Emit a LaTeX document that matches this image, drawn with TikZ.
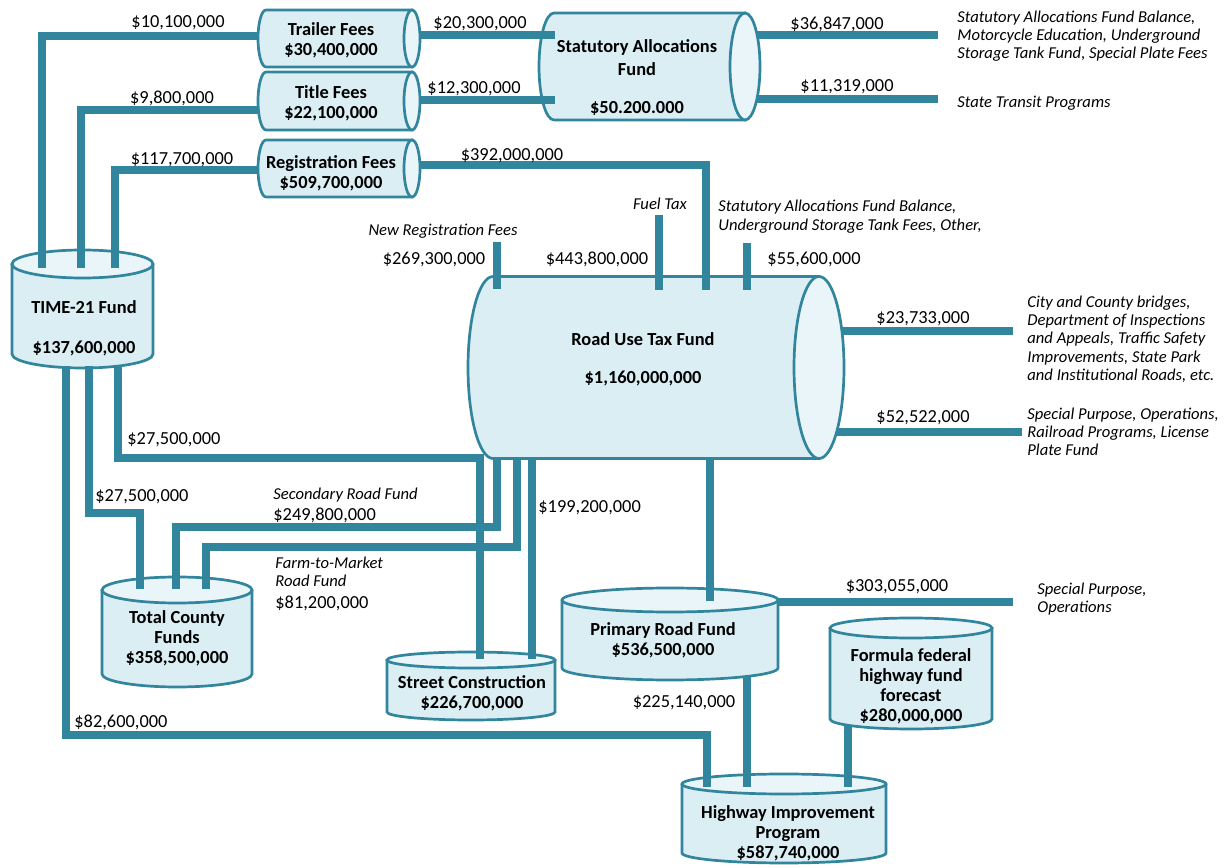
\documentclass[tikz,border=0pt]{standalone}
\usepackage{fontspec}
\setmainfont{Carlito}
\usepackage{tikz}

\definecolor{pipeblue}{HTML}{31859C}
\definecolor{tankfill}{HTML}{DAEEF3}
\definecolor{tanklight}{HTML}{E9F5F8}

\tikzset{
	tank/.style={draw=pipeblue, line width=1.35pt, fill=tankfill},
	tanktop/.style={draw=pipeblue, line width=1.35pt, fill=tanklight},
	pipe/.style={draw=pipeblue, line width=3.6pt},
	tanktext/.style={font=\fontsize{9.2}{10}\selectfont\bfseries, align=center, inner sep=0pt},
	amount/.style={font=\fontsize{9.2}{10}\selectfont, inner sep=0pt},
	note/.style={font=\fontsize{8.3}{9.1}\selectfont\itshape, align=left, inner sep=0pt},
}

% standing tank: cx, y of top, y of bottom, rx, ry
\newcommand\vertank[5]{
	\filldraw[tank] ({#1-#4},#2) -- ({#1-#4},#3) arc[start angle=180, end angle=0, x radius=#4, y radius=#5] -- ({#1+#4},#2);
	\filldraw[tanktop] (#1,#2) ellipse[x radius=#4, y radius=#5];
}
% lying tank: x of left end, x of right end, cy, rx, ry
\newcommand\hortank[5]{
	\filldraw[tank] (#1,{#3-#5}) -- (#2,{#3-#5}) -- (#2,{#3+#5}) -- (#1,{#3+#5}) arc[start angle=90, end angle=270, x radius=#4, y radius=#5] -- cycle;
	\filldraw[tanktop] (#2,#3) ellipse[x radius=#4, y radius=#5];
}

\begin{document}
\begin{tikzpicture}[x=0.5pt, y=-0.5pt]

	\useasboundingbox (0,0) rectangle (1232,865);

	% tanks
	\hortank{266}{412}{38.5}{8}{28.5}
	\hortank{266}{412}{101}{8}{29}
	\hortank{266}{412}{168.5}{8}{28.5}
	\hortank{554}{745}{66.5}{15}{53.5}
	\hortank{493}{819}{367.5}{25}{91}
	\vertank{82.5}{264}{354}{70.5}{14}
	\vertank{177}{590}{674}{75}{13}
	\vertank{471}{660}{712}{84}{8}
	\vertank{670}{600}{668}{108}{12}
	\vertank{911}{628}{719}{81}{10}
	\vertank{784}{784}{853}{102}{10}

	\node[tanktext] (trailer) at (331,40) {Trailer Fees\\\$30,400,000};
	\node[tanktext] (title) at (331,103) {Title Fees\\\$22,100,000};
	\node[tanktext] (registration) at (331,173) {Registration Fees\\\$509,700,000};
	\node[tanktext] (statutory) at (637,77.5) {Statutory Allocations\\[1.5pt]Fund\\[9pt]\$50.200.000};
	\node[tanktext] (time21) at (84,328) {TIME-21 Fund\\[10pt]\$137,600,000};
	\node[tanktext] (roaduse) at (643,359) {Road Use Tax Fund\\[9pt]\$1,160,000,000};
	\node[tanktext] (county) at (177,638.5) {Total County\\Funds\\\$358,500,000};
	\node[tanktext] (street) at (472,693) {Street Construction\\\$226,700,000};
	\node[tanktext] (primary) at (663,640) {Primary Road Fund\\\$536,500,000};
	\node[tanktext] (federal) at (911,686) {Formula federal\\highway fund\\forecast\\\$280,000,000};
	\node[tanktext] (highway) at (788,833) {Highway Improvement\\Program\\\$587,740,000};

	% pipe ends
	\foreach \n/\x/\y in {trlL/259/36, trlR/420/35, ttlL/259/110, ttlR/420/100,
		regL/259/170, regR/420/165, satA/555/35, satB/555/100, satC/757/35, satD/757/99,
		outA/938/35, outB/938/99, t21a/42/268, t21b/81/268, t21c/115/268,
		t21d/66/366, t21e/89/366, t21f/118/366, rutA/497/289, rutB/659/290,
		rutC/706/290, rutD/747/290, newreg/497/242, fuel/659/215, stat/747/243,
		rurA/843/331, rurB/837/432, endA/1013/331, endB/1022/432,
		rubA/497/458, rubB/517/458, rubC/532/458, rubD/710/458,
		cntA/140/589, cntB/176/589, cntC/206/589, strA/480/659, strB/532/659,
		priT/710/601, priR/777/602, priE/1013/602, priB/747/676,
		fedB/848/726, hwyA/707/787, hwyB/747/787, hwyC/848/787}
		\coordinate (\n) at (\x,\y);

	% pipes
	\draw[pipe] (trlL) -| (t21a);
	\draw[pipe] (ttlL) -| (t21b);
	\draw[pipe] (regL) -| (t21c);
	\draw[pipe] (trlR) -- (satA);
	\draw[pipe] (ttlR) -- (satB);
	\draw[pipe] (regR) -| (rutC);
	\draw[pipe] (satC) -- (outA);
	\draw[pipe] (satD) -- (outB);
	\draw[pipe] (newreg) -- (rutA);
	\draw[pipe] (fuel) -- (rutB);
	\draw[pipe] (stat) -- (rutD);
	\draw[pipe] (rurA) -- (endA);
	\draw[pipe] (rurB) -- (endB);
	\draw[pipe] (t21f) -- ++(0,92) -| (strA);
	\draw[pipe] (t21e) -- ++(0,147) -| (cntA);
	\draw[pipe] (t21d) -- ++(0,369) -| (hwyA);
	\draw[pipe] (rubA) -- ++(0,69) -| (cntB);
	\draw[pipe] (rubB) -- ++(0,89) -| (cntC);
	\draw[pipe] (rubC) -- (strB);
	\draw[pipe] (rubD) -- (priT);
	\draw[pipe] (priR) -- (priE);
	\draw[pipe] (priB) -- (hwyB);
	\draw[pipe] (fedB) -- (hwyC);

	% amounts
	\node[amount] (amtA) at (178,23) {\$10,100,000};
	\node[amount] (amtB) at (172,98) {\$9,800,000};
	\node[amount] (amtC) at (182,160) {\$117,700,000};
	\node[amount] (amtD) at (480,24) {\$20,300,000};
	\node[amount] (amtE) at (474,89) {\$12,300,000};
	\node[amount] (amtF) at (512,156) {\$392,000,000};
	\node[amount] (amtG) at (837,24) {\$36,847,000};
	\node[amount] (amtH) at (847,87) {\$11,319,000};
	\node[amount] (amtI) at (434,259) {\$269,300,000};
	\node[amount] (amtJ) at (597,259) {\$443,800,000};
	\node[amount] (amtK) at (814,259) {\$55,600,000};
	\node[amount] (amtL) at (923,319) {\$23,733,000};
	\node[amount] (amtM) at (923,418) {\$52,522,000};
	\node[amount, anchor=west] (amtN) at (127,440) {\$27,500,000};
	\node[amount, anchor=west] (amtO) at (95,497) {\$27,500,000};
	\node[amount, anchor=west] (amtP) at (273,515) {\$249,800,000};
	\node[amount, anchor=west] (amtQ) at (275,603) {\$81,200,000};
	\node[amount, anchor=west] (amtR) at (538,508) {\$199,200,000};
	\node[amount] (amtS) at (897,587) {\$303,055,000};
	\node[amount] (amtT) at (684,703) {\$225,140,000};
	\node[amount, anchor=west] (amtU) at (74,722) {\$82,600,000};

	% notes
	\node[note] (noteA) at (443,231) {New Registration Fees};
	\node[note] (noteB) at (660,204) {Fuel Tax};
	\node[note, anchor=north west] (noteC) at (718,200) {Statutory Allocations Fund Balance,\\Underground Storage Tank Fees, Other,};
	\node[note, anchor=north west] (noteD) at (957,10.5) {Statutory Allocations Fund Balance,\\Motorcycle Education, Underground\\Storage Tank Fund, Special Plate Fees};
	\node[note, anchor=west] (noteE) at (957,103) {State Transit Programs};
	\node[note, anchor=north west] (noteF) at (1027,295.5) {City and County bridges,\\Department of Inspections\\and Appeals, Traffic Safety\\Improvements, State Park\\and Institutional Roads, etc.};
	\node[note, anchor=north west] (noteG) at (1027,407.5) {Special Purpose, Operations,\\Railroad Programs, License\\Plate Fund};
	\node[note, anchor=west] (noteH) at (273,495) {Secondary Road Fund};
	\node[note, anchor=north west] (noteI) at (275,556.5) {Farm-to-Market\\Road Fund};
	\node[note, anchor=north west] (noteJ) at (1037,582.5) {Special Purpose,\\Operations};

\end{tikzpicture}
\end{document}
